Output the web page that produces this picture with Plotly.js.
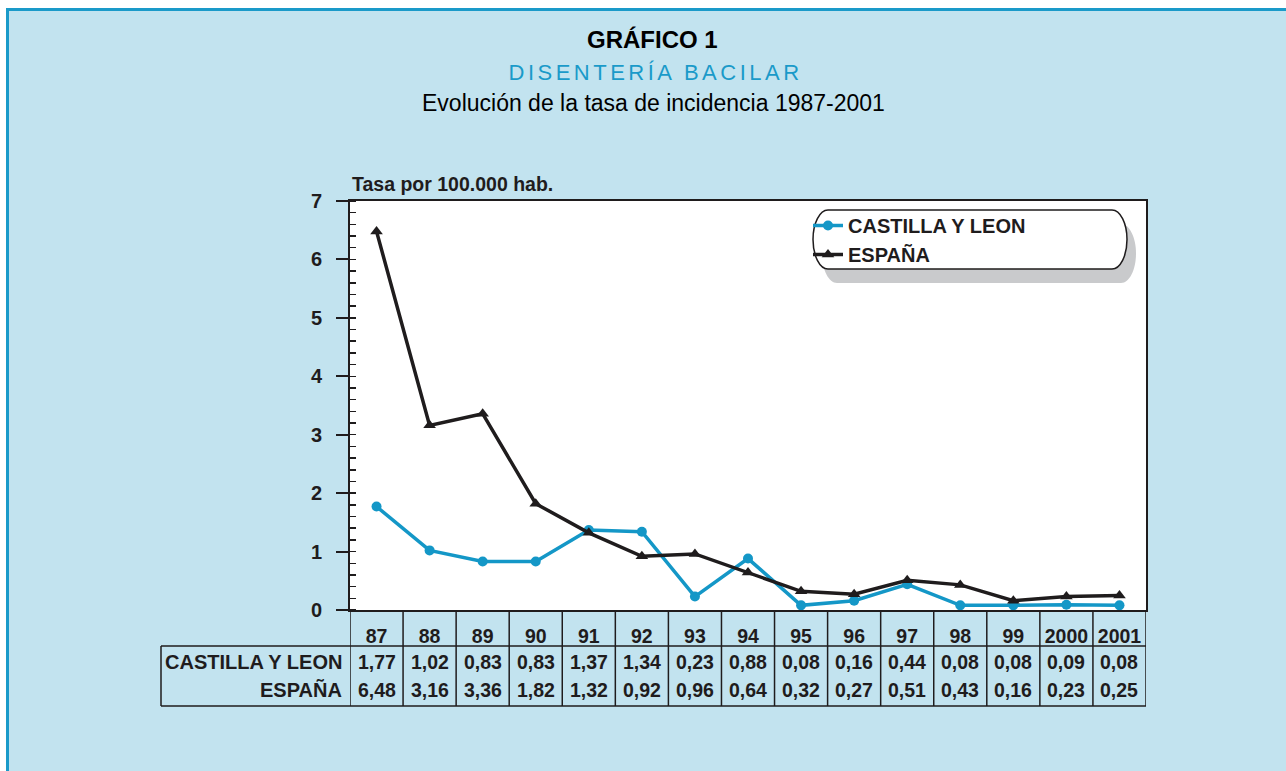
<!DOCTYPE html>
<html>
<head>
<meta charset="utf-8">
<script src="https://cdn.plot.ly/plotly-3.0.1.min.js"></script>
<style>
html,body{margin:0;padding:0;background:#ffffff;}
#chart{width:1286px;height:771px;}
.annotation[data-index="1"] text{letter-spacing:3.5px;}
</style>
</head>
<body>
<div id="chart"></div>
<script>
// ---- data ----
const years = ['87','88','89','90','91','92','93','94','95','96','97','98','99','2000','2001'];
const castillaLeon = [1.77,1.02,0.83,0.83,1.37,1.34,0.23,0.88,0.08,0.16,0.44,0.08,0.08,0.09,0.08];
const espana = [6.48,3.16,3.36,1.82,1.32,0.92,0.96,0.64,0.32,0.27,0.51,0.43,0.16,0.23,0.25];
const seriesNames = ['CASTILLA Y LEON','ESPAÑA'];

// ---- geometry helpers (pixel -> paper) ----
const W = 1286, H = 771;
const L = 350, R = 1146, T = 201, B = 610;
const px = x => (x - L) / (R - L);
const py = y => (B - y) / (B - T);
const FONT = 'Liberation Sans, Arial, sans-serif';
const BLUE = '#1497c7';
const DARK = '#1f1c1d';
const fmt = v => v.toFixed(2).replace('.', ',');

function pillPath(x0, y0, x1, y1, rx) {
  const ry = (y1 - y0) / 2, k = 0.5523;
  const ym = y0 + ry;
  const P = (x, y) => px(x).toFixed(5) + ',' + py(y).toFixed(5);
  let d = 'M' + P(x0 + rx, y0) + ' L' + P(x1 - rx, y0);
  d += ' C' + P(x1 - rx + k * rx, y0) + ' ' + P(x1, ym - k * ry) + ' ' + P(x1, ym);
  d += ' C' + P(x1, ym + k * ry) + ' ' + P(x1 - rx + k * rx, y1) + ' ' + P(x1 - rx, y1);
  d += ' L' + P(x0 + rx, y1);
  d += ' C' + P(x0 + rx - k * rx, y1) + ' ' + P(x0, ym + k * ry) + ' ' + P(x0, ym);
  d += ' C' + P(x0, ym - k * ry) + ' ' + P(x0 + rx - k * rx, y0) + ' ' + P(x0 + rx, y0) + ' Z';
  return d;
}

const traces = [
  {
    x: years, y: castillaLeon, name: seriesNames[0], type: 'scatter', mode: 'lines+markers',
    line: {color: BLUE, width: 3.5}, marker: {symbol: 'circle', size: 10, color: BLUE}
  },
  {
    x: years, y: espana, name: seriesNames[1], type: 'scatter', mode: 'lines+markers',
    line: {color: DARK, width: 3.5}, marker: {symbol: 'triangle-up', size: 11, color: DARK}
  }
];

// ---- shapes ----
const shapes = [];
shapes.push({type: 'rect', xref: 'paper', yref: 'paper', layer: 'below',
  x0: px(7.5), x1: px(1295), y0: py(9.5), y1: py(790),
  fillcolor: '#c2e3ef', line: {color: '#1a9ac9', width: 3}});
shapes.push({type: 'rect', xref: 'paper', yref: 'paper', layer: 'below',
  x0: 0, x1: 1, y0: 0, y1: 1, fillcolor: '#ffffff', line: {width: 0}});
shapes.push({type: 'path', xref: 'paper', yref: 'paper', layer: 'below',
  path: pillPath(822, 224, 1136, 283, 15), fillcolor: '#c9cacc', line: {width: 0}});
shapes.push({type: 'path', xref: 'paper', yref: 'paper', layer: 'below',
  path: pillPath(813, 210, 1127, 269, 15), fillcolor: '#ffffff', line: {color: DARK, width: 1.5}});

const yHead = py(646), yBot = py(706);
shapes.push({type: 'line', xref: 'paper', yref: 'paper', x0: px(161), x1: 1, y0: yHead, y1: yHead, line: {color: DARK, width: 1.5}});
shapes.push({type: 'line', xref: 'paper', yref: 'paper', x0: px(161), x1: 1, y0: yBot, y1: yBot, line: {color: DARK, width: 1.5}});
shapes.push({type: 'line', xref: 'paper', yref: 'paper', x0: px(161), x1: px(161), y0: yHead, y1: yBot, line: {color: DARK, width: 1.5}});
for (let i = 0; i <= years.length; i++) {
  shapes.push({type: 'line', xref: 'x', yref: 'paper', x0: i - 0.5, x1: i - 0.5, y0: 0, y1: yBot, line: {color: DARK, width: 1.5}});
}

// ---- annotations ----
const A = (o) => Object.assign({showarrow: false, xref: 'paper', yref: 'paper', xanchor: 'center', yanchor: 'middle'}, o);
const annotations = [
  A({text: 'GRÁFICO 1', x: px(652), y: py(40),
     font: {family: FONT, size: 24, color: '#000000', weight: 'bold'}}),
  A({text: 'DISENTERÍA BACILAR', x: px(655), y: py(72),
     font: {family: FONT, size: 22, color: '#1a9ac9'}}),
  A({text: 'Evolución de la tasa de incidencia 1987-2001', x: px(653), y: py(103),
     font: {family: FONT, size: 23, color: '#000000'}}),
  A({text: 'Tasa por 100.000 hab.', x: 0, y: py(184), xanchor: 'left',
     font: {family: FONT, size: 19.5, color: DARK, weight: 'bold'}}),
  A({text: seriesNames[0], x: px(344), y: py(662), xanchor: 'right',
     font: {family: FONT, size: 20, color: DARK, weight: 'bold'}}),
  A({text: seriesNames[1], x: px(344), y: py(690), xanchor: 'right',
     font: {family: FONT, size: 20, color: DARK, weight: 'bold'}})
];
years.forEach((yr, i) => {
  annotations.push(A({text: fmt(castillaLeon[i]), xref: 'x', x: i, y: py(662),
    font: {family: FONT, size: 19.5, color: DARK, weight: 'bold'}}));
  annotations.push(A({text: fmt(espana[i]), xref: 'x', x: i, y: py(690),
    font: {family: FONT, size: 19.5, color: DARK, weight: 'bold'}}));
});

const layout = {
  width: W, height: H,
  margin: {l: L, r: W - R, t: T, b: H - B, pad: 0},
  paper_bgcolor: '#ffffff',
  plot_bgcolor: 'rgba(0,0,0,0)',
  showlegend: true,
  legend: {
    x: px(808), y: py(206), xanchor: 'left', yanchor: 'top',
    bgcolor: 'rgba(0,0,0,0)', borderwidth: 0,
    font: {family: FONT, size: 20, color: DARK, weight: 'bold'},
    itemwidth: 30, tracegroupgap: 0
  },
  xaxis: {
    type: 'category', range: [-0.5, years.length - 0.5], fixedrange: true,
    showline: true, linecolor: DARK, linewidth: 2, mirror: true,
    showgrid: false, zeroline: false, ticks: '',
    tickfont: {family: FONT, size: 19.5, color: DARK, weight: 'bold'},
    ticklabelstandoff: 8
  },
  yaxis: {
    range: [0, 7], dtick: 1, tick0: 0, fixedrange: true,
    showline: true, linecolor: DARK, linewidth: 2, mirror: true,
    showgrid: false, zeroline: false,
    ticks: 'outside', ticklen: 12, tickwidth: 2, tickcolor: DARK,
    minor: {dtick: 0.2, ticks: 'inside', ticklen: 6, tickwidth: 1.5, tickcolor: DARK, showgrid: false},
    tickfont: {family: FONT, size: 20, color: DARK, weight: 'bold'},
    ticklabelstandoff: 10
  },
  shapes: shapes,
  annotations: annotations
};

Plotly.newPlot('chart', traces, layout, {displayModeBar: false, staticPlot: true});
</script>
</body>
</html>
